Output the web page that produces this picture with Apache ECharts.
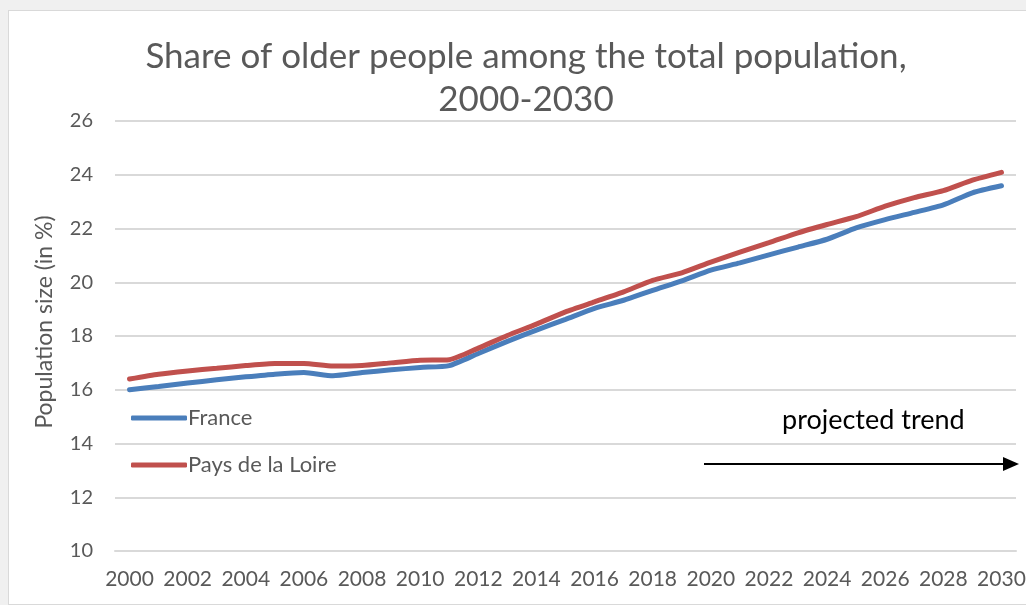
<!DOCTYPE html>
<html>
<head>
<meta charset="utf-8">
<title>Share of older people</title>
<script src="https://cdn.jsdelivr.net/npm/echarts@6/dist/echarts.min.js"></script>
<style>
  html, body { margin: 0; padding: 0; background: #f0f0f0; overflow: hidden; }
  #chart { position: absolute; left: 8px; top: 10px; width: 1030px; height: 595px;
           background: #fff; border: 1px solid #d9d9d9; box-sizing: border-box; }
</style>
</head>
<body>
<div id="chart"></div>
<script>
// 数据
const years = []
for (let y = 2000; y <= 2030; y++) years.push(String(y))

const france = [16.0, 16.12, 16.25, 16.37, 16.48, 16.58, 16.64, 16.52, 16.64, 16.74, 16.83, 16.9,
  17.35, 17.8, 18.22, 18.62, 19.03, 19.33, 19.7, 20.05, 20.45, 20.72, 21.02, 21.31, 21.6,
  22.02, 22.33, 22.6, 22.88, 23.33, 23.59]
const paysDeLaLoire = [16.4, 16.58, 16.7, 16.8, 16.9, 16.98, 16.98, 16.88, 16.9, 17.0, 17.1, 17.12,
  17.55, 18.02, 18.44, 18.9, 19.27, 19.64, 20.07, 20.35, 20.75, 21.12, 21.47, 21.84, 22.15,
  22.44, 22.83, 23.15, 23.41, 23.8, 24.09]

const yTicks = { min: 10, max: 26, interval: 2 }

const font = 'Lato, "Open Sans", sans-serif'
const grey = '#595959'

const chart = echarts.init(document.getElementById('chart'))
const option = {
  animation: false,
  textStyle: { fontFamily: font },
  title: {
    text: 'Share of older people among the total population,\n2000-2030',
    left: 512,
    textAlign: 'center',
    top: 19,
    textStyle: { fontFamily: font, fontSize: 35, fontWeight: 'normal', color: grey, lineHeight: 43 }
  },
  grid: { left: 106, right: 21, top: 110, bottom: 53 },
  legend: {
    orient: 'vertical',
    left: 117,
    top: 389,
    icon: 'roundRect',
    itemWidth: 56,
    itemHeight: 5,
    itemGap: 21,
    textStyle: { fontFamily: font, fontSize: 22, color: grey, padding: [0, 0, 0, -4], lineHeight: 26 },
    data: ['France', 'Pays de la Loire']
  },
  xAxis: {
    type: 'category',
    data: years,
    boundaryGap: true,
    axisTick: { show: false },
    axisLine: { lineStyle: { color: '#d9d9d9', width: 2 } },
    axisLabel: { interval: 1, color: grey, fontSize: 21, margin: 18, fontFamily: font }
  },
  yAxis: {
    type: 'value',
    min: yTicks.min,
    max: yTicks.max,
    interval: yTicks.interval,
    name: 'Population size (in %)',
    nameLocation: 'middle',
    nameGap: 59,
    nameTextStyle: { color: grey, fontSize: 23, fontFamily: font, padding: [0, 0, 0, 28] },
    axisLabel: { color: grey, fontSize: 20, margin: 22, fontFamily: font },
    splitLine: { lineStyle: { color: '#d9d9d9', width: 2 } }
  },
  series: [
    {
      name: 'France',
      type: 'line',
      data: france,
      symbol: 'none',
      smooth: 0.2,
      itemStyle: { color: '#4a7ebb' },
      lineStyle: { color: '#4a7ebb', width: 5, cap: 'round' }
    },
    {
      name: 'Pays de la Loire',
      type: 'line',
      data: paysDeLaLoire,
      symbol: 'none',
      smooth: 0.2,
      itemStyle: { color: '#c0504d' },
      lineStyle: { color: '#c0504d', width: 5, cap: 'round' }
    }
  ],
  // 注释: 预测趋势箭头
  graphic: [
    {
      type: 'text',
      left: 773,
      top: 396,
      style: { text: 'projected trend', fill: '#000', fontSize: 27, fontFamily: font }
    },
    {
      type: 'line',
      shape: { x1: 695, y1: 453, x2: 996, y2: 453 },
      style: { stroke: '#000', lineWidth: 2 }
    },
    {
      type: 'polygon',
      shape: { points: [[994, 446], [1010, 453], [994, 460]] },
      style: { fill: '#000' }
    }
  ]
}
chart.setOption(option)
</script>
</body>
</html>
